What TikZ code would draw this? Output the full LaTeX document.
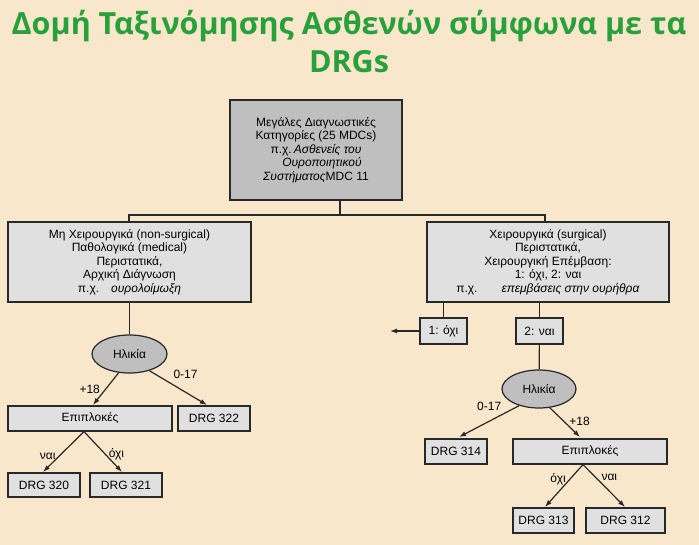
\documentclass[tikz,border=0pt]{standalone}
\usepackage{fontspec}
\setmainfont{Liberation Sans}
\newfontfamily\titlefont{Open Sans}
\usetikzlibrary{shapes.geometric,arrows.meta}
\definecolor{bgc}{RGB}{248,231,202}
\definecolor{ttl}{RGB}{40,160,60}
\definecolor{dk}{RGB}{191,191,191}
\definecolor{lt}{RGB}{224,224,224}
\definecolor{ln}{RGB}{40,40,40}
\begin{document}
\begin{tikzpicture}[x=1pt,y=-1pt,
  bx/.style={draw=ln,line width=1.2pt,fill=lt,inner sep=0pt,font=\fontsize{12}{13.5}\selectfont,align=center},
  ell/.style={ellipse,draw=ln,line width=1.2pt,fill=dk,inner sep=0pt,font=\fontsize{12}{13}\selectfont},
  ln/.style={draw=ln,line width=1.2pt},
  ar/.style={ln,-{Latex[length=7pt,width=5pt]}},
  lb/.style={font=\fontsize{12}{13}\selectfont}]
\fill[bgc] (0,0) rectangle (699,545);
\useasboundingbox (0,0) rectangle (699,545);
\node[font=\titlefont\bfseries\fontsize{30.5}{33}\selectfont,text=ttl] (t1) at (349,26) {Δομή Ταξινόμησης Ασθενών σύμφωνα με τα};
\node[font=\titlefont\bfseries\fontsize{30.5}{33}\selectfont,text=ttl] (t2) at (349,62) {DRGs};
\node[bx,fill=dk,minimum width=172,minimum height=100] (top) at (316,150) {Μεγάλες Διαγνωστικές\\Κατηγορίες (25 MDCs)\\π.χ.\,\textit{Ασθενείς του}\\\hspace*{1em}\textit{Ουροποιητικού}\\\textit{Συστήματος}MDC 11};
\node[bx,minimum width=243,minimum height=80] (L) at (129.5,262) {Μη Χειρουργικά (non-surgical)\\Παθολογικά (medical)\\Περιστατικά,\\Αρχική Διάγνωση\\π.χ.\quad\textit{ουρολοίμωξη}};
\node[bx,minimum width=242,minimum height=80] (R) at (548,262) {Χειρουργικά (surgical)\\Περιστατικά,\\Χειρουργική Επέμβαση:\\1: όχι, 2: ναι\\π.χ.\qquad\textit{επεμβάσεις στην ουρήθρα}};
\coordinate (j) at (340,215);
\draw[ln] (top.south -| j) -- (j);
\draw[ln] (L.north -| 129,0) |- (j) -| (R.north -| 545,0);
% left branch
\node[ell,minimum width=75,minimum height=38] (e1) at (129.5,354) {Ηλικία};
\draw[ln] (L.south -| e1) -- (e1);
\node[bx,minimum width=164,minimum height=25] (ep1) at (90,418.5) {Επιπλοκές};
\node[bx,minimum width=72,minimum height=25] (d322) at (214,418.5) {DRG 322};
\draw[ar] (e1.240) -- (93,405) node[lb,pos=0.5,left=2pt] {+18};
\draw[ar] (e1.-40) -- (207,405) node[lb,pos=0.35,above right=0pt] {0-17};
\node[bx,minimum width=72,minimum height=24] (d320) at (44,485) {DRG 320};
\node[bx,minimum width=72,minimum height=24] (d321) at (126,485) {DRG 321};
\draw[ar] (ep1.south -| 84,0) -- (43,472) node[lb,pos=0.6,left=0pt] {ναι};
\draw[ar] (ep1.south -| 84,0) -- (122,472) node[lb,pos=0.55,right=0pt] {όχι};
% right branch
\node[bx,minimum width=47,minimum height=26] (n1) at (443.5,331) {1: όχι};
\node[bx,minimum width=47,minimum height=26] (n2) at (539.5,331) {2: ναι};
\draw[ln] (R.south -| n1) -- (n1);
\draw[ln] (R.south -| n2) -- (n2);
\coordinate (out) at (390,331);
\draw[ar] (n1.west) -- (out);
\node[ell,minimum width=74,minimum height=38] (e2) at (539,389) {Ηλικία};
\draw[ln] (n2) -- (e2);
\node[bx,minimum width=62,minimum height=25] (d314) at (456,451.5) {DRG 314};
\node[bx,minimum width=154,minimum height=25] (ep2) at (590,451.5) {Επιπλοκές};
\draw[ar] (e2.220) -- (459,437) node[lb,pos=0.25,above left=-1pt] {0-17};
\draw[ar] (e2.-60) -- (580,437) node[lb,pos=0.45,right=2pt] {+18};
\node[bx,minimum width=61,minimum height=25] (d313) at (543.5,520.5) {DRG 313};
\node[bx,minimum width=79,minimum height=25] (d312) at (625.5,520.5) {DRG 312};
\draw[ar] (ep2.south -| 583,0) -- (545,507) node[lb,pos=0.35,left=0pt] {όχι};
\draw[ar] (ep2.south -| 583,0) -- (625,507) node[lb,pos=0.3,right=2pt] {ναι};
\end{tikzpicture}
\end{document}
